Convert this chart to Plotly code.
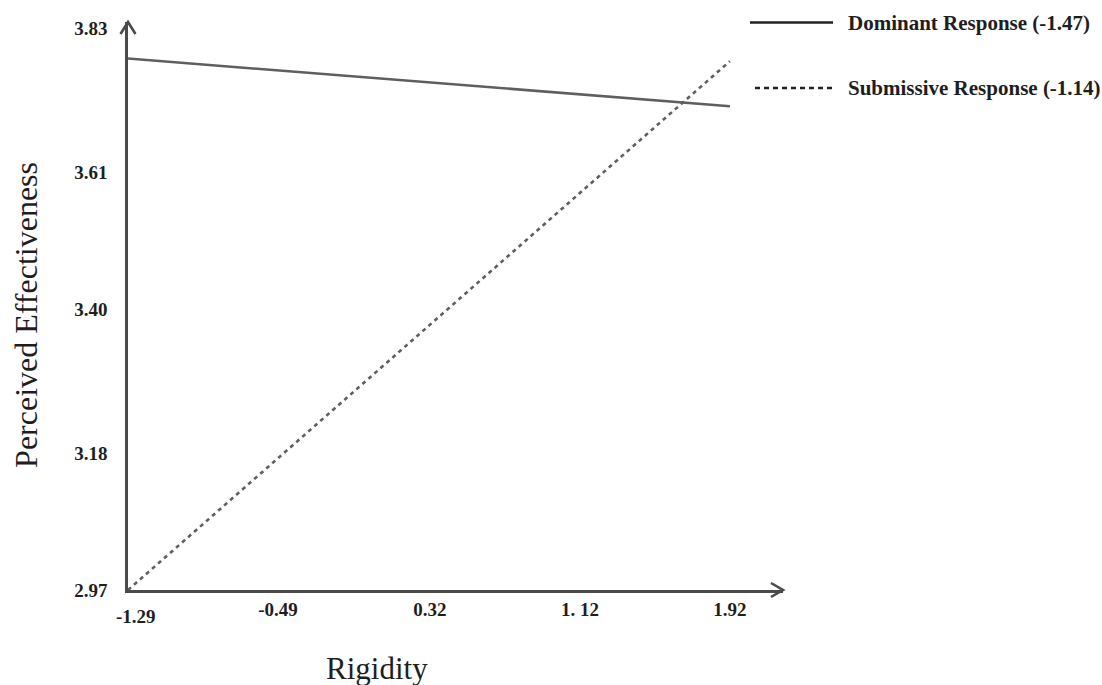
import plotly.graph_objects as go

# ---- data ----
rigidity = [-1.29, 1.92]
dominant = [3.784, 3.711]
submissive = [2.97, 3.780]

x_ticks = [-1.29, -0.49, 0.32, 1.12, 1.92]
x_tick_text = ["-1.29", "-0.49", "0.32", "1. 12", "1.92"]
y_ticks = [2.97, 3.18, 3.40, 3.61, 3.83]
y_tick_text = ["2.97", "3.18", "3.40", "3.61", "3.83"]

series_names = ["Dominant Response (-1.47)", "Submissive Response (-1.14)"]

LINE_COL = "#5f5f5f"
AXIS_COL = "#4a4a4a"
TXT = "#1e1e1e"
SERIF = "Liberation Serif, Times New Roman, serif"

X_MAX = 2.203
Y_MAX = 3.840

fig = go.Figure()
fig.add_trace(go.Scatter(x=rigidity, y=dominant, mode="lines", name=series_names[0],
                         line=dict(color=LINE_COL, width=2.6), showlegend=False))
fig.add_trace(go.Scatter(x=rigidity, y=submissive, mode="lines", name=series_names[1],
                         line=dict(color=LINE_COL, width=2.6, dash="4px,4px"), showlegend=False))

fig.update_xaxes(range=[rigidity[0], X_MAX], tickvals=x_ticks[1:], ticktext=x_tick_text[1:],
                 showgrid=False, zeroline=False, showline=True, linecolor=AXIS_COL, linewidth=2.6,
                 ticks="", ticklabelstandoff=0,
                 tickfont=dict(family=SERIF, size=19, color=TXT, weight="bold"))
fig.update_yaxes(range=[y_ticks[0], Y_MAX], tickvals=y_ticks, ticktext=y_tick_text,
                 showgrid=False, zeroline=False, showline=True, linecolor=AXIS_COL, linewidth=2.6,
                 ticks="", ticklabelstandoff=14,
                 tickfont=dict(family=SERIF, size=19, color=TXT, weight="bold"))

# first x tick label, slightly lower, as in the original
fig.add_annotation(x=x_ticks[0], y=y_ticks[0], xref="x", yref="y", text=x_tick_text[0],
                   showarrow=False, xanchor="center", yanchor="top", xshift=8, yshift=-14,
                   font=dict(family=SERIF, size=19, color=TXT, weight="bold"))

# axis arrowheads (paper-referenced so they are not clipped)
fig.add_shape(type="path", xref="paper", yref="paper", xsizemode="pixel", ysizemode="pixel",
              xanchor=1.0, yanchor=0.0, path="M-12,-7 L0,0 L-12,7",
              line=dict(color=AXIS_COL, width=2.6))
fig.add_shape(type="path", xref="paper", yref="paper", xsizemode="pixel", ysizemode="pixel",
              xanchor=0.0, yanchor=1.0, path="M-7.5,-12 L0,0 L7.5,-12",
              line=dict(color=AXIS_COL, width=2.6))

# axis titles
fig.add_annotation(x=0.38, y=-0.139, xref="paper", yref="paper", text="Rigidity",
                   showarrow=False, xanchor="center", yanchor="middle",
                   font=dict(family=SERIF, size=31, color=TXT))
fig.add_annotation(x=-0.156, y=0.484, xref="paper", yref="paper", text="Perceived Effectiveness",
                   showarrow=False, textangle=-90, xanchor="center", yanchor="middle",
                   font=dict(family=SERIF, size=32, color=TXT))

# legend (drawn manually)
W, H = 655.0, 568.0
def px(xp):
    return (xp - 128) / W
def py(yp):
    return (590 - yp) / H

fig.add_shape(type="line", xref="paper", yref="paper", x0=px(750), x1=px(833), y0=py(22.5), y1=py(22.5),
              line=dict(color="#222222", width=2.6))
fig.add_shape(type="line", xref="paper", yref="paper", x0=px(755), x1=px(835), y0=py(88), y1=py(88),
              line=dict(color="#222222", width=2.6, dash="5px,4px"))
fig.add_annotation(x=px(846), y=py(22.5), xref="paper", yref="paper", text=series_names[0],
                   showarrow=False, xanchor="left", yanchor="middle",
                   font=dict(family=SERIF, size=21, color=TXT, weight="bold"))
fig.add_annotation(x=px(846), y=py(88), xref="paper", yref="paper", text=series_names[1],
                   showarrow=False, xanchor="left", yanchor="middle",
                   font=dict(family=SERIF, size=21, color=TXT, weight="bold"))

fig.update_layout(width=1102, height=685, margin=dict(l=128, r=319, t=22, b=95),
                  plot_bgcolor="white", paper_bgcolor="white", showlegend=False)

fig.write_html("out.html", config={"displayModeBar": False},
               post_script="document.body.style.margin='0px';")
